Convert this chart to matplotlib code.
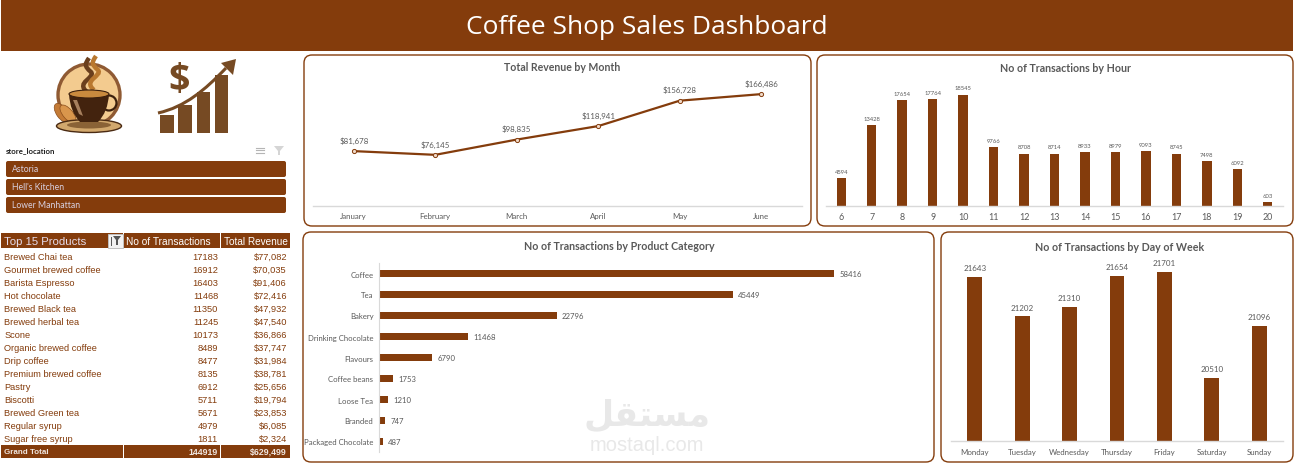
import matplotlib
matplotlib.use('Agg')
import matplotlib.pyplot as plt
from matplotlib.patches import Rectangle, FancyBboxPatch, Circle, Ellipse, Polygon, PathPatch
from matplotlib.path import Path

plt.rcParams['font.family'] = ['Lato', 'DejaVu Sans']

BROWN = '#843C0C'
GREY = '#595959'
AXIS_GREY = '#D9D9D9'
W, H = 1296, 464
SHIFT = 1

months = ['January', 'February', 'March', 'April', 'May', 'June']
revenue = [81678, 76145, 98835, 118941, 156728, 166486]

hours = [6, 7, 8, 9, 10, 11, 12, 13, 14, 15, 16, 17, 18, 19, 20]
hour_tx = [4594, 13428, 17654, 17764, 18545, 9766, 8708, 8714, 8933, 8979, 9093, 8745, 7498, 6092, 603]

categories = ['Coffee', 'Tea', 'Bakery', 'Drinking Chocolate', 'Flavours', 'Coffee beans',
              'Loose Tea', 'Branded', 'Packaged Chocolate']
category_tx = [58416, 45449, 22796, 11468, 6790, 1753, 1210, 747, 487]

days = ['Monday', 'Tuesday', 'Wednesday', 'Thursday', 'Friday', 'Saturday', 'Sunday']
day_tx = [21643, 21202, 21310, 21654, 21701, 20510, 21096]

stores = ['Astoria', "Hell's Kitchen", 'Lower Manhattan']

products = ['Brewed Chai tea', 'Gourmet brewed coffee', 'Barista Espresso', 'Hot chocolate', 'Brewed Black tea',
            'Brewed herbal tea', 'Scone', 'Organic brewed coffee', 'Drip coffee', 'Premium brewed coffee',
            'Pastry', 'Biscotti', 'Brewed Green tea', 'Regular syrup', 'Sugar free syrup']
product_tx = [17183, 16912, 16403, 11468, 11350, 11245, 10173, 8489, 8477, 8135, 6912, 5711, 5671, 4979, 1811]
product_rev = [77082, 70035, 91406, 72416, 47932, 47540, 36866, 37747, 31984, 38781, 25656, 19794, 23853, 6085, 2324]
total_tx = 144919
total_rev = 629499

fig = plt.figure(figsize=(W / 100, H / 100), dpi=100, facecolor='white')

# full size axes in pixel coordinates for everything that is not a chart
bg = fig.add_axes([0, 0, 1, 1])
bg.set_xlim(0, W)
bg.set_ylim(H - SHIFT, -SHIFT)
bg.axis('off')


def chart_axes(left, top, right, bottom):
    top += SHIFT
    bottom += SHIFT
    ax = fig.add_axes([left / W, 1 - bottom / H, (right - left) / W, (bottom - top) / H])
    ax.patch.set_alpha(0)
    for s in ax.spines.values():
        s.set_visible(False)
    ax.spines['bottom'].set_visible(True)
    ax.spines['bottom'].set_color(AXIS_GREY)
    ax.spines['bottom'].set_linewidth(1)
    ax.tick_params(length=0, labelcolor=GREY)
    ax.set_yticks([])
    return ax


def panel(x0, y0, x1, y1, title, title_x, title_y, size):
    bg.add_patch(FancyBboxPatch((x0 + 8, y0 + 8), x1 - x0 - 16, y1 - y0 - 16,
                                boxstyle='round,pad=8,rounding_size=8', fc='white', ec=BROWN, lw=1))
    bg.text(title_x, title_y, title, ha='center', va='center', fontsize=size, fontweight='bold', color=GREY)


# header
bg.add_patch(Rectangle((1, -1), 1292, 52, fc=BROWN, ec='none'))
bg.text(647, 26, 'Coffee Shop Sales Dashboard', ha='center', va='center', fontsize=18.9, color='white',
        family='Open Sans')

panel(304, 55, 811, 226, 'Total Revenue by Month', 562, 66.5, 7.6)
panel(817, 55, 1293, 226, 'No of Transactions by Hour', 1065, 67, 7.7)
panel(303, 232, 934, 462, 'No of Transactions by Product Category', 619, 245.5, 7.7)
panel(941, 232, 1293, 462, 'No of Transactions by Day of Week', 1120, 246.5, 7.7)

# watermark
bg.text(647, 415, '\uFEDE\uFED8\uFE98\uFEB4\uFEE3', ha='center', va='center', fontsize=25,
        fontweight='bold', color='#E8E8E8', family='DejaVu Sans')
bg.text(647, 445, 'mostaql.com', ha='center', va='center', fontsize=14.5, color='#E8E8E8',
        family='Liberation Sans')

# revenue line
ax = chart_axes(313, 80, 802, 206)
ax.plot(range(len(months)), revenue, color=BROWN, lw=1.6, marker='o', ms=3, mfc='#F0D9C8', mec=BROWN, mew=0.7)
ax.set_xlim(-0.5, 5.5)
ax.set_ylim(0, 187500)
ax.set_xticks(range(len(months)), months, fontsize=5.7)
ax.tick_params(axis='x', pad=4.5)
for i, v in enumerate(revenue):
    ax.annotate(f'${v:,}', (i, v), xytext=(0, 8), textcoords='offset points', ha='center', va='center',
                fontsize=5.7, color=GREY)

# hour bars
ax = chart_axes(826, 80, 1283, 206)
ax.bar(range(len(hours)), hour_tx, width=0.31, color=BROWN)
ax.set_xlim(-0.5, 14.5)
ax.set_ylim(0, 21000)
ax.set_xticks(range(len(hours)), hours, fontsize=6.4)
ax.tick_params(axis='x', pad=4.5)
for i, v in enumerate(hour_tx):
    ax.annotate(str(v), (i, v), xytext=(0, 5), textcoords='offset points', ha='center', va='center',
                fontsize=4.2, color=GREY)

# category bars
ax = chart_axes(379, 263, 920, 452)
ax.barh(range(len(categories)), category_tx, height=0.38, color=BROWN)
ax.set_ylim(8.5, -0.5)
ax.set_xlim(0, 69450)
ax.set_xticks([])
ax.spines['bottom'].set_visible(False)
ax.spines['left'].set_visible(True)
ax.spines['left'].set_color(AXIS_GREY)
ax.set_yticks(range(len(categories)), categories, fontsize=5.6)
ax.tick_params(axis='y', pad=4)
for i, v in enumerate(category_tx):
    ax.annotate(str(v), (v, i), xytext=(3.8, 0), textcoords='offset points', ha='left', va='center',
                fontsize=5.6, color=GREY)

# day bars
ax = chart_axes(951, 262, 1283, 441)
ax.bar(range(len(days)), day_tx, width=0.316, color=BROWN)
ax.set_xlim(-0.5, 6.5)
ax.set_ylim(19800, 21811)
ax.set_xticks(range(len(days)), days, fontsize=5.7)
ax.tick_params(axis='x', pad=5)
for i, v in enumerate(day_tx):
    ax.annotate(str(v), (i, v), xytext=(0, 6.5), textcoords='offset points', ha='center', va='center',
                fontsize=5.8, color=GREY)

# coffee logo
bg.add_patch(Circle((89, 95), 31, fc='#F3CB8F', ec='#8F5A33', lw=2.4))
for d, c in (((87, 92), '#6B3F1D'), ((94, 90), '#B9782F')):
    verts = [d, (d[0] - 12, d[1] - 10), (d[0] + 9, d[1] - 14), (d[0] + 4, d[1] - 20),
             (d[0] - 3, d[1] - 26), (d[0] - 2, d[1] - 28), (d[0] + 2, d[1] - 34)]
    bg.add_patch(PathPatch(Path(verts, [Path.MOVETO] + [Path.CURVE4] * 6), fc='none', ec=c, lw=3.2))
bg.add_patch(Ellipse((62, 113), 11, 22, angle=-35, fc='#C47B36', ec='#8A4E1D', lw=0.5))
bg.add_patch(Ellipse((68, 114), 10, 22, angle=-40, fc='#D9964C', ec='#8A4E1D', lw=0.5))
bg.add_patch(Ellipse((89, 126), 65, 13, fc='#D2A86D', ec='#4A2A12', lw=1))
bg.add_patch(Ellipse((89, 125), 44, 7, fc='#8A6236', ec='none'))
bg.add_patch(Circle((109, 103), 7.5, fc='none', ec='#3C200D', lw=1.6))
cup = [(69, 94), (70, 112), (80, 122), (98, 122), (108, 112), (109, 94), (69, 94)]
bg.add_patch(PathPatch(Path(cup, [Path.MOVETO, Path.CURVE3, Path.CURVE3, Path.LINETO,
                                  Path.CURVE3, Path.CURVE3, Path.CLOSEPOLY]), fc='#43230E', ec='none'))
bg.add_patch(Ellipse((89, 94), 40, 8, fc='#C98A3E', ec='#3C200D', lw=0.8))
bg.add_patch(Polygon([(73, 100), (77, 100), (83, 116), (79, 114)], fc='#A67F5D', ec='none'))

# growth logo
for x0, x1, top in ((160, 174, 115), (178, 192, 105), (197, 210, 92), (215, 228, 75)):
    bg.add_patch(Rectangle((x0, top), x1 - x0, 132.5 - top, fc='#764A23', ec='none'))
arrow = [(158, 113), (185, 107), (205, 90), (226, 68)]
bg.add_patch(PathPatch(Path(arrow, [Path.MOVETO] + [Path.CURVE4] * 3), fc='none', ec='#764A23', lw=2.2))
bg.add_patch(Polygon([(236, 59), (233, 75), (221, 63)], fc='#764A23', ec='none'))
bg.text(179, 80, '$', ha='center', va='center', fontsize=27, fontweight='bold', color='#764A23', family='Open Sans')

# slicer
bg.text(6, 150, 'store_location', ha='left', va='center', fontsize=5.6, fontweight='bold', color='#222222')
for y in (147.5, 150, 152.5):
    bg.plot([256, 264], [y, y], color='#B5B5B5', lw=0.8)
bg.add_patch(Polygon([(274, 146), (284, 146), (280, 151), (280, 155), (278, 155), (278, 151)], fc='#D5D5D5', ec='none'))
for i, s in enumerate(stores):
    y = 161 + i * 18
    bg.add_patch(FancyBboxPatch((8, y + 2), 276, 12, boxstyle='round,pad=2,rounding_size=2', fc=BROWN, ec='none'))
    bg.text(12, y + 8, s, ha='left', va='center', fontsize=6.2, color='#D8D0E0')

# pivot table
TABLE_FONT = 'Liberation Sans'
for x0, x1, y0, y1 in ((1, 123, 233, 248), (124, 220, 233, 248), (221, 290, 233, 248),
                       (1, 123, 445, 458), (124, 220, 445, 458), (221, 290, 445, 458)):
    bg.add_patch(Rectangle((x0, y0), x1 - x0, y1 - y0, fc=BROWN, ec='none'))
bg.text(4, 241.5, 'Top 15 Products', ha='left', va='center', fontsize=8.2, color='#E6DCEB', family=TABLE_FONT)
bg.add_patch(Rectangle((107.5, 233.5), 15, 14, fc='#F2F2F2', ec='#BFBFBF', lw=0.7))
bg.add_patch(Polygon([(113, 236), (121, 236), (118, 240), (118, 245), (116, 245), (116, 240)], fc='#555555', ec='none'))
bg.plot([110.5, 110.5], [237, 245], color='#555555', lw=0.7)
bg.text(126, 241, 'No of Transactions', ha='left', va='center', fontsize=7.3, color='white', family=TABLE_FONT)
bg.text(224, 241, 'Total Revenue', ha='left', va='center', fontsize=7.2, color='white', family=TABLE_FONT)
for i, name in enumerate(products):
    y = 256.7 + i * 13
    bg.text(4.5, y, name, ha='left', va='center', fontsize=6.7, color=BROWN, family=TABLE_FONT)
    bg.text(218, y, str(product_tx[i]), ha='right', va='center', fontsize=6.7, color=BROWN, family=TABLE_FONT)
    bg.text(287, y, f'${product_rev[i]:,}', ha='right', va='center', fontsize=6.7, color=BROWN, family=TABLE_FONT)
bg.text(4, 451.5, 'Grand Total', ha='left', va='center', fontsize=5.8, fontweight='bold', color='#F0E6E0', family=TABLE_FONT)
bg.text(218, 451.5, str(total_tx), ha='right', va='center', fontsize=6.4, fontweight='bold', color='#F0E6E0', family=TABLE_FONT)
bg.text(287, 451.5, f'${total_rev:,}', ha='right', va='center', fontsize=6.4, fontweight='bold', color='#F0E6E0', family=TABLE_FONT)

fig.savefig('out.png', dpi=100)
